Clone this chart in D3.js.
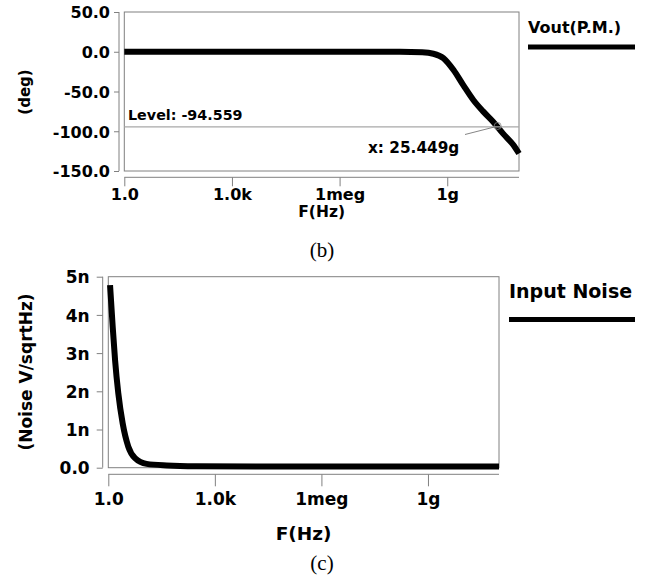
<!DOCTYPE html>
<html lang="en">
  <head>
    <meta charset="UTF-8" />
    <title>Phase and Input Noise</title>
    <style>
      body { margin: 0; background: #fff; }
      svg text { font-family: "DejaVu Sans", sans-serif; font-weight: bold; fill: #000; }
      .caption { font-family: "Liberation Serif", serif !important; font-weight: normal !important; }
    </style>
  </head>
  <body>
    <div class="chart"></div>
    <script src="https://d3js.org/d3.v7.min.js"></script>
    <script>
      // x axis ticks (shared)
      const freqTicks = [1, 1e3, 1e6, 1e9];
      const freqTickLabels = ["1.0", "1.0k", "1meg", "1g"];

      // (b) phase of Vout
      const phaseFreq = [1, 1e3, 1e6, 4.8e7, 2e8, 4.1e8, 7.8e8, 1.5e9, 2.8e9, 5.4e9, 1.0e10, 1.9e10, 3.6e10, 6.9e10, 1e11];
      const phaseDeg = [0, 0, 0, 0, -0.7, -2.5, -8, -23, -42, -61, -75, -88, -103, -117, -128];
      const phaseTicks = [50, 0, -50, -100, -150];
      const phaseTickLabels = ["50.0", "0.0", "-50.0", "-100.0", "-150.0"];
      const level = -94.559;
      const levelX = 25.449e9;

      // (c) input noise, nV/sqrtHz
      const noiseFreq = [1.12, 1.33, 1.55, 1.91, 2.54, 3.66, 5.65, 12, 44, 300, 1e5, 1e11];
      const noiseNV = [4.78, 3.69, 2.82, 1.95, 1.16, 0.55, 0.25, 0.1, 0.06, 0.04, 0.03, 0.03];
      const noiseTicks = [5, 4, 3, 2, 1, 0];
      const noiseTickLabels = ["5n", "4n", "3n", "2n", "1n", "0.0"];

      const svg = d3.select(".chart").append("svg").attr("width", 646).attr("height", 579);
      const grey = "#808080";

      function panel(o) {
        const g = svg.append("g");
        const x = d3.scaleLog().domain([1, 1e11]).range([o.left, o.right]);
        const y = d3.scaleLinear().domain(o.yDomain).range([o.bottom, o.top]);

        // plot box
        g.append("rect")
          .attr("x", o.left).attr("y", o.top)
          .attr("width", o.right - o.left).attr("height", o.bottom - o.top)
          .attr("fill", "none").attr("stroke", grey);

        // y axis, offset to the left of the box
        const yAx = g.append("g").attr("transform", `translate(${o.left - o.gap},0)`)
          .call(d3.axisLeft(y).tickValues(o.yTicks).tickSize(o.yTickLen).tickPadding(o.yPad)
            .tickFormat((d, i) => o.yLabels[i]));
        yAx.select(".domain").attr("stroke", grey).attr("d", `M0,${o.top}V${o.bottom}`);
        yAx.selectAll(".tick line").attr("stroke", grey);
        yAx.selectAll("text").attr("font-size", o.fs).attr("dy", "0.36em");

        // x axis, offset below the box
        const xAx = g.append("g").attr("transform", `translate(0,${o.bottom + o.gapX})`)
          .call(d3.axisBottom(x).tickValues(freqTicks).tickSize(o.xTickLen).tickPadding(o.xPad)
            .tickFormat((d, i) => freqTickLabels[i]));
        xAx.select(".domain").attr("stroke", grey).attr("d", `M${o.left},0H${o.right}`);
        xAx.selectAll(".tick line").attr("stroke", grey);
        xAx.selectAll("text").attr("font-size", o.fs);

        // axis titles
        g.append("text").attr("x", (o.left + o.right) / 2).attr("y", o.xTitleY)
          .attr("text-anchor", "middle").attr("font-size", o.titleFs).text("F(Hz)");
        g.append("text")
          .attr("transform", `translate(${o.yTitleX},${o.yTitleY}) rotate(-90)`)
          .attr("text-anchor", "middle").attr("font-size", o.yTitleFs).text(o.yTitle);

        // caption
        g.append("text").attr("class", "caption").attr("x", 322).attr("y", o.capY)
          .attr("text-anchor", "middle").attr("font-size", 21).text(o.caption);

        // legend
        g.append("text").attr("x", o.legX).attr("y", o.legY)
          .attr("font-size", o.legFs).text(o.legend);
        g.append("line").attr("x1", o.legX).attr("x2", 635)
          .attr("y1", o.legLineY).attr("y2", o.legLineY)
          .attr("stroke", "#000").attr("stroke-width", 5);

        // data line
        const line = d3.line().x((d) => x(d[0])).y((d) => y(d[1])).curve(d3.curveMonotoneX);
        g.append("path").datum(d3.zip(o.xs, o.ys)).attr("d", line)
          .attr("fill", "none").attr("stroke", "#000").attr("stroke-width", o.lw)
          .attr("stroke-linejoin", "round");

        return { g, x, y };
      }

      const phasePanel = panel({
        left: 124.3, right: 519, top: 12, bottom: 171, gap: 5.3, gapX: 6.3,
        yDomain: [-150, 50], yTicks: phaseTicks, yLabels: phaseTickLabels,
        yTickLen: 5, yPad: 4, xTickLen: 9, xPad: 2.5, fs: 16,
        xTitleY: 217, titleFs: 15.5, yTitle: "(deg)", yTitleX: 30, yTitleY: 92, yTitleFs: 15,
        capY: 257, caption: "(b)",
        legend: "Vout(P.M.)", legX: 528, legY: 33, legFs: 16, legLineY: 47,
        xs: phaseFreq, ys: phaseDeg, lw: 6,
      });

      // level cursor
      const pg = phasePanel.g, px = phasePanel.x, py = phasePanel.y;
      pg.append("line")
        .attr("x1", px(1)).attr("x2", px(1e11))
        .attr("y1", py(level)).attr("y2", py(level))
        .attr("stroke", "#a8a8a8").attr("stroke-width", 1.2);
      pg.append("text").attr("x", 128).attr("y", 120).attr("font-size", 14.3)
        .text("Level: " + level);
      pg.append("text").attr("x", 368).attr("y", 153).attr("font-size", 15.3)
        .text("x: 25.449g");
      pg.append("line").attr("x1", 465).attr("y1", 134.5)
        .attr("x2", px(levelX) - 3).attr("y2", py(level))
        .attr("stroke", "#666").attr("stroke-width", 0.8);
      pg.append("circle").attr("cx", px(levelX)).attr("cy", py(level) - 1).attr("r", 3.5)
        .attr("fill", "none").attr("stroke", "#888").attr("stroke-width", 0.8);

      panel({
        left: 108.3, right: 499, top: 276.7, bottom: 467.7, gap: 5.6, gapX: 6.6,
        yDomain: [0, 5], yTicks: noiseTicks, yLabels: noiseTickLabels,
        yTickLen: 6, yPad: 7, xTickLen: 12, xPad: 7, fs: 17,
        xTitleY: 540, titleFs: 18.5, yTitle: "(Noise V/sqrtHz)", yTitleX: 32, yTitleY: 372, yTitleFs: 17,
        capY: 570, caption: "(c)",
        legend: "Input Noise", legX: 509, legY: 298, legFs: 19, legLineY: 319.5,
        xs: noiseFreq, ys: noiseNV, lw: 6,
      });
    </script>
  </body>
</html>
